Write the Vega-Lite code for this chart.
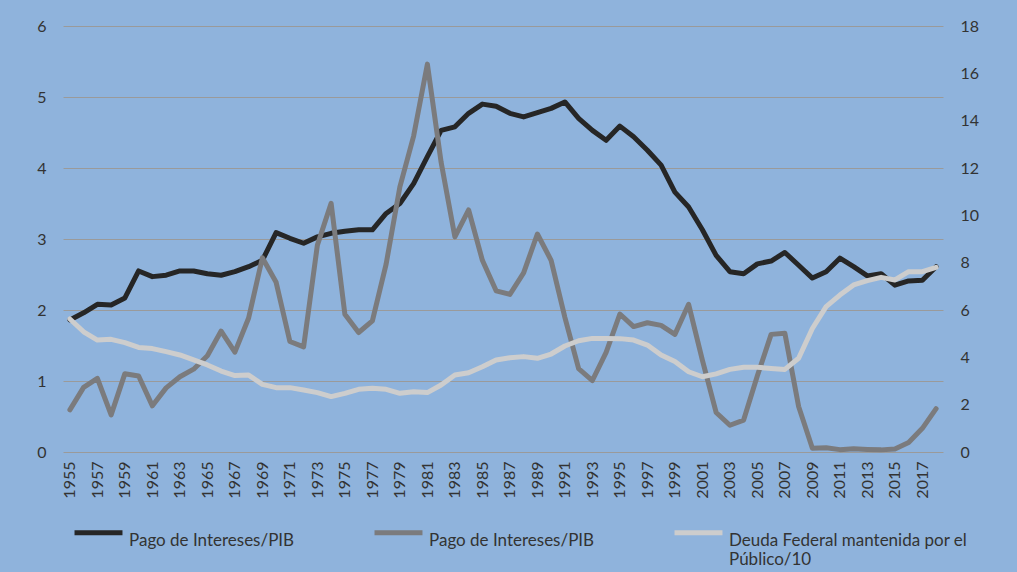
{
  "$schema": "https://vega.github.io/schema/vega-lite/v6.json",
  "width": 880,
  "height": 426,
  "autosize": {"type": "none"},
  "padding": {"left": 63, "top": 26, "right": 74, "bottom": 120},
  "background": "#8fb3dc",
  "config": {
    "view": {"stroke": null},
    "font": "Lato",
    "axis": {"labelFont": "Lato", "labelColor": "#333333", "domain": false, "ticks": false, "title": null},
    "legend": {"labelFont": "Lato"}
  },
  "data": {"values": [
    {"year":1955,"pi":1.86,"ff":1.78,"debt":5.62},
    {"year":1956,"pi":1.96,"ff":2.73,"debt":5.08},
    {"year":1957,"pi":2.08,"ff":3.11,"debt":4.73},
    {"year":1958,"pi":2.07,"ff":1.57,"debt":4.76},
    {"year":1959,"pi":2.17,"ff":3.31,"debt":4.62},
    {"year":1960,"pi":2.55,"ff":3.21,"debt":4.42},
    {"year":1961,"pi":2.47,"ff":1.95,"debt":4.37},
    {"year":1962,"pi":2.49,"ff":2.71,"debt":4.24},
    {"year":1963,"pi":2.55,"ff":3.18,"debt":4.10},
    {"year":1964,"pi":2.55,"ff":3.50,"debt":3.89},
    {"year":1965,"pi":2.51,"ff":4.07,"debt":3.68},
    {"year":1966,"pi":2.49,"ff":5.11,"debt":3.42},
    {"year":1967,"pi":2.54,"ff":4.22,"debt":3.23},
    {"year":1968,"pi":2.61,"ff":5.66,"debt":3.25},
    {"year":1969,"pi":2.70,"ff":8.21,"debt":2.86},
    {"year":1970,"pi":3.09,"ff":7.17,"debt":2.72},
    {"year":1971,"pi":3.01,"ff":4.67,"debt":2.72},
    {"year":1972,"pi":2.94,"ff":4.44,"debt":2.62},
    {"year":1973,"pi":3.03,"ff":8.74,"debt":2.51},
    {"year":1974,"pi":3.08,"ff":10.51,"debt":2.34},
    {"year":1975,"pi":3.11,"ff":5.82,"debt":2.48},
    {"year":1976,"pi":3.13,"ff":5.05,"debt":2.65},
    {"year":1977,"pi":3.13,"ff":5.54,"debt":2.69},
    {"year":1978,"pi":3.36,"ff":7.94,"debt":2.65},
    {"year":1979,"pi":3.50,"ff":11.20,"debt":2.48},
    {"year":1980,"pi":3.78,"ff":13.35,"debt":2.55},
    {"year":1981,"pi":4.16,"ff":16.39,"debt":2.51},
    {"year":1982,"pi":4.53,"ff":12.24,"debt":2.83},
    {"year":1983,"pi":4.58,"ff":9.09,"debt":3.25},
    {"year":1984,"pi":4.77,"ff":10.23,"debt":3.35},
    {"year":1985,"pi":4.90,"ff":8.10,"debt":3.60},
    {"year":1986,"pi":4.87,"ff":6.81,"debt":3.89},
    {"year":1987,"pi":4.77,"ff":6.66,"debt":3.98},
    {"year":1988,"pi":4.72,"ff":7.57,"debt":4.03},
    {"year":1989,"pi":4.78,"ff":9.21,"debt":3.96},
    {"year":1990,"pi":4.84,"ff":8.10,"debt":4.14},
    {"year":1991,"pi":4.93,"ff":5.69,"debt":4.48},
    {"year":1992,"pi":4.70,"ff":3.52,"debt":4.70},
    {"year":1993,"pi":4.53,"ff":3.02,"debt":4.80},
    {"year":1994,"pi":4.39,"ff":4.21,"debt":4.80},
    {"year":1995,"pi":4.59,"ff":5.83,"debt":4.79},
    {"year":1996,"pi":4.44,"ff":5.30,"debt":4.73},
    {"year":1997,"pi":4.25,"ff":5.46,"debt":4.52},
    {"year":1998,"pi":4.04,"ff":5.35,"debt":4.10},
    {"year":1999,"pi":3.66,"ff":4.97,"debt":3.82},
    {"year":2000,"pi":3.45,"ff":6.24,"debt":3.39},
    {"year":2001,"pi":3.13,"ff":3.88,"debt":3.18},
    {"year":2002,"pi":2.77,"ff":1.67,"debt":3.30},
    {"year":2003,"pi":2.54,"ff":1.13,"debt":3.49},
    {"year":2004,"pi":2.51,"ff":1.35,"debt":3.58},
    {"year":2005,"pi":2.65,"ff":3.22,"debt":3.58},
    {"year":2006,"pi":2.69,"ff":4.97,"debt":3.53},
    {"year":2007,"pi":2.81,"ff":5.02,"debt":3.49},
    {"year":2008,"pi":2.63,"ff":1.92,"debt":3.96},
    {"year":2009,"pi":2.45,"ff":0.16,"debt":5.22},
    {"year":2010,"pi":2.54,"ff":0.18,"debt":6.14},
    {"year":2011,"pi":2.73,"ff":0.10,"debt":6.63},
    {"year":2012,"pi":2.61,"ff":0.14,"debt":7.06},
    {"year":2013,"pi":2.48,"ff":0.11,"debt":7.24},
    {"year":2014,"pi":2.51,"ff":0.09,"debt":7.38},
    {"year":2015,"pi":2.35,"ff":0.13,"debt":7.27},
    {"year":2016,"pi":2.41,"ff":0.40,"debt":7.62},
    {"year":2017,"pi":2.42,"ff":1.00,"debt":7.62},
    {"year":2018,"pi":2.61,"ff":1.83,"debt":7.80}
  ]},
  "encoding": {
    "x": {
      "field": "year", "type": "ordinal",
      "scale": {"type": "point", "padding": 0.5},
      "axis": {"labelAngle": 270, "labelFontSize": 16, "labelPadding": 9, "labelExpr": "datum.value % 2 == 1 ? datum.label : ''", "grid": false}
    },
    "color": {
      "field": "series", "type": "nominal",
      "scale": {"domain": ["pi", "ff", "debt"], "range": ["#262626", "#7b7b7d", "#cdcdcd"]},
      "legend": {
        "title": null, "orient": "none", "legendX": 9, "legendY": 480,
        "direction": "horizontal", "columns": 3, "columnPadding": -4, "gridAlign": "all",
        "symbolType": "stroke", "symbolSize": 2300, "symbolStrokeWidth": 5,
        "labelFontSize": 17, "labelColor": "#333333", "labelLimit": 500, "labelOffset": 4,
        "labelBaseline": "top",
        "labelExpr": "datum.value == 'debt' ? ['Deuda Federal mantenida por el', 'Público/10'] : ['Pago de Intereses/PIB', '']"
      }
    }
  },
  "layer": [
    {
      "transform": [{"fold": ["pi"], "as": ["series", "value"]}],
      "mark": {"type": "line", "strokeWidth": 5, "strokeJoin": "round", "strokeCap": "round"},
      "encoding": {
        "y": {
          "field": "value", "type": "quantitative",
          "scale": {"domain": [0, 6], "nice": false, "zero": true},
          "axis": {"orient": "left", "values": [0,1,2,3,4,5,6], "labelFontSize": 16, "labelPadding": 17, "grid": true, "gridColor": "#9a9a9a", "gridWidth": 1}
        }
      }
    },
    {
      "layer": [
        {
          "transform": [{"fold": ["ff"], "as": ["series", "value"]}],
          "mark": {"type": "line", "strokeWidth": 5, "strokeJoin": "round", "strokeCap": "round"},
          "encoding": {
            "y": {
              "field": "value", "type": "quantitative",
              "scale": {"domain": [0, 18], "nice": false},
              "axis": {"orient": "right", "values": [0,2,4,6,8,10,12,14,16,18], "labelFontSize": 16, "labelPadding": 17, "grid": false}
            }
          }
        },
        {
          "transform": [{"fold": ["debt"], "as": ["series", "value"]}],
          "mark": {"type": "line", "strokeWidth": 5, "strokeJoin": "round", "strokeCap": "round"},
          "encoding": {
            "y": {"field": "value", "type": "quantitative"}
          }
        }
      ]
    }
  ],
  "resolve": {"scale": {"y": "independent"}}
}
